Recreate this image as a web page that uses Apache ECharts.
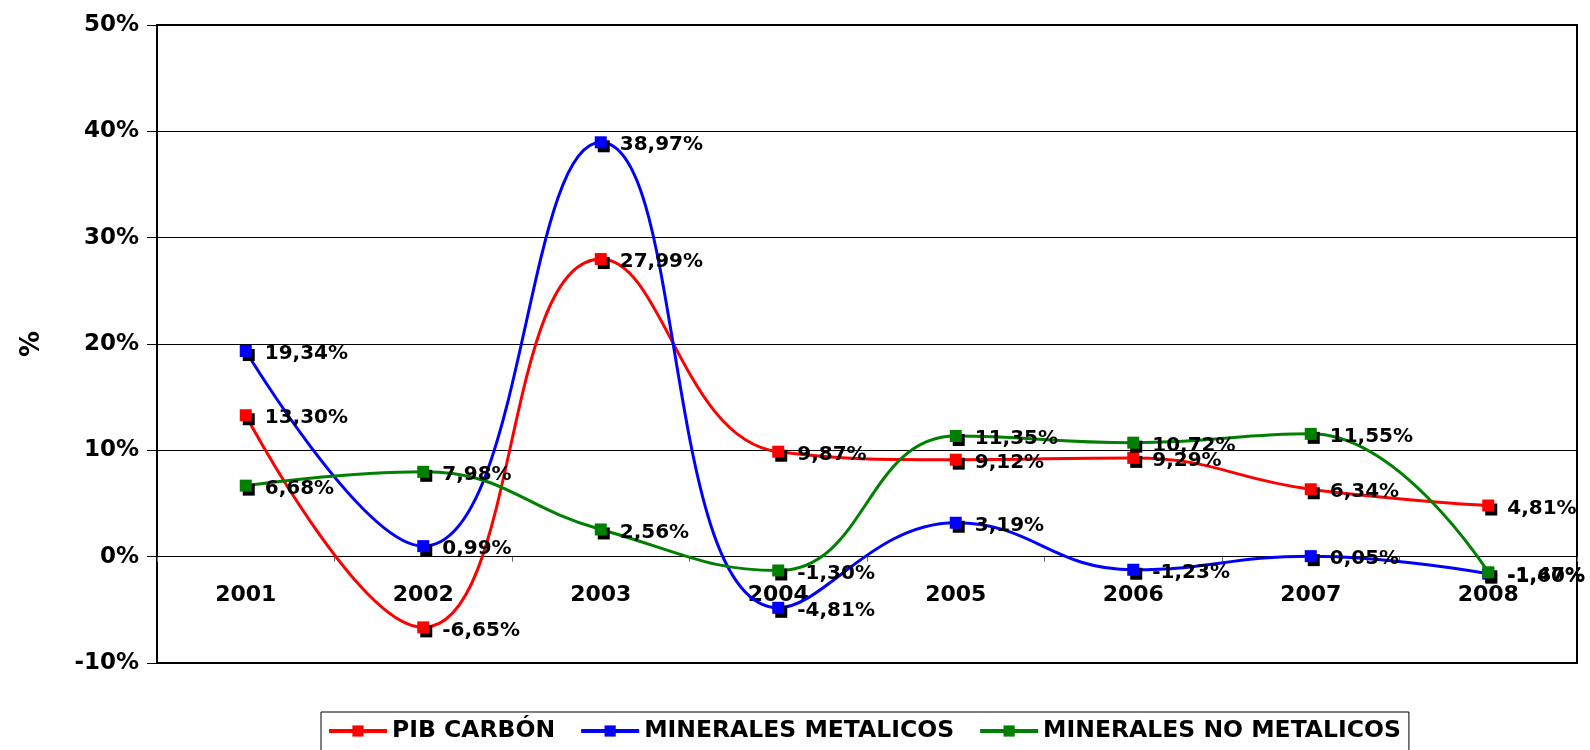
<!DOCTYPE html>
<html>
<head>
<meta charset="utf-8">
<script src="https://cdn.jsdelivr.net/npm/echarts@6/dist/echarts.min.js"></script>
<style>html,body{margin:0;padding:0;background:#fff;}#c{width:1590px;height:750px;}</style>
</head>
<body>
<div id="c"></div>
<script>
const categories = ['2001','2002','2003','2004','2005','2006','2007','2008'];
const pibCarbon = [13.30, -6.65, 27.99, 9.87, 9.12, 9.29, 6.34, 4.81];
const mineralesMetalicos = [19.34, 0.99, 38.97, -4.81, 3.19, -1.23, 0.05, -1.60];
const mineralesNoMetalicos = [6.68, 7.98, 2.56, -1.30, 11.35, 10.72, 11.55, -1.47];
const seriesNames = ['PIB CARBÓN', 'MINERALES METALICOS', 'MINERALES NO METALICOS'];
const seriesColors = ['#FF0000', '#0000FF', '#008000'];
const yTicks = { min: -10, max: 50, interval: 10 };

const FONT = 'DejaVu Sans';
function fmt(v) { return v.toFixed(2).replace('.', ',') + '%'; }

function mkSeries(name, data, color) {
  return {
    name: name,
    type: 'line',
    data: data,
    smooth: 0.45,
    symbol: 'rect',
    symbolSize: 12,
    lineStyle: { color: color, width: 3 },
    itemStyle: { color: color, shadowColor: '#000', shadowOffsetX: 3, shadowOffsetY: 4, shadowBlur: 0 },
    label: {
      show: true,
      position: 'right',
      distance: 13,
      offset: [0, 3],
      color: '#000',
      fontFamily: FONT,
      fontWeight: 'bold',
      fontSize: 20,
      formatter: p => fmt(p.value)
    },
    emphasis: { disabled: true },
    animation: false
  };
}

const chart = echarts.init(document.getElementById('c'), null, { renderer: 'canvas' });
chart.setOption({
  backgroundColor: '#fff',
  animation: false,
  grid: {
    left: 157, right: 13, top: 25, bottom: 87,
    show: true, borderColor: '#000', borderWidth: 2, backgroundColor: 'transparent'
  },
  legend: {
    data: seriesNames,
    left: 321,
    top: 712,
    padding: [7, 8, 14, 6],
    itemGap: 24,
    itemWidth: 58,
    itemHeight: 14,
    borderColor: '#000',
    borderWidth: 1,
    lineStyle: { width: 4 },
    textStyle: { fontFamily: FONT, fontWeight: 'bold', fontSize: 23.5, color: '#000' },
    itemStyle: { shadowColor: 'transparent', shadowOffsetX: 0, shadowOffsetY: 0 }
  },
  xAxis: {
    type: 'category',
    data: categories,
    boundaryGap: true,
    offset: -106.3,
    axisLine: { onZero: false, lineStyle: { color: '#000', width: 1 } },
    axisTick: { show: true, length: 5, lineStyle: { color: '#666' } },
    axisLabel: { color: '#000', fontFamily: FONT, fontWeight: 'bold', fontSize: 22, margin: 28 }
  },
  yAxis: {
    type: 'value',
    min: yTicks.min, max: yTicks.max, interval: yTicks.interval,
    name: '%',
    nameLocation: 'middle',
    nameRotate: 90,
    nameGap: 112,
    nameTextStyle: { color: '#000', fontFamily: FONT, fontWeight: 'bold', fontSize: 26 },
    axisLine: { show: true, lineStyle: { color: '#000', width: 2 } },
    axisTick: { show: true, length: 10, lineStyle: { color: '#000' } },
    axisLabel: { color: '#000', fontFamily: FONT, fontWeight: 'bold', fontSize: 23, margin: 18, formatter: '{value}%' },
    splitLine: { show: true, lineStyle: { color: '#000', width: 1 } }
  },
  series: [
    mkSeries(seriesNames[0], pibCarbon, seriesColors[0]),
    mkSeries(seriesNames[1], mineralesMetalicos, seriesColors[1]),
    mkSeries(seriesNames[2], mineralesNoMetalicos, seriesColors[2])
  ]
});
</script>
</body>
</html>
